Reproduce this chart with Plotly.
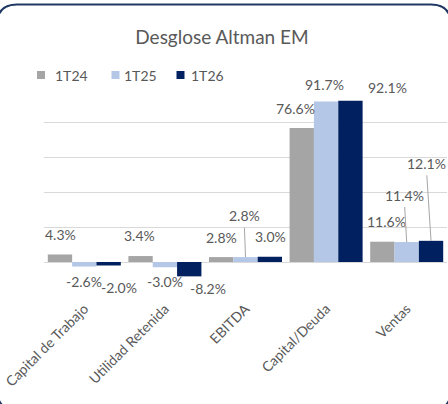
import plotly.graph_objects as go

categories = ["Capital de Trabajo", "Utilidad Retenida", "EBITDA", "Capital/Deuda", "Ventas"]
series_names = ["1T24", "1T25", "1T26"]
v_1t24 = [4.3, 3.4, 2.8, 76.6, 11.6]
v_1t25 = [-2.6, -3.0, 2.8, 91.7, 11.4]
v_1t26 = [-2.0, -8.2, 3.0, 92.1, 12.1]
y_ticks = [-20, 0, 20, 40, 60, 80, 100]
title_text = "Desglose Altman EM"

series_values = [v_1t24, v_1t25, v_1t26]
colors = ["#a5a5a5", "#b4c7e7", "#002060"]
FONT = "Lato"
TXT = "#595959"

W, H = 448, 404
ML, MR, MT, MB = 44, 1, 87, 107
BARGAP = 0.094

fig = go.Figure()
for name, vals, col in zip(series_names, series_values, colors):
    fig.add_trace(go.Bar(x=categories, y=vals, name=name, showlegend=False,
                         marker=dict(color=col, line=dict(width=0))))

# label placement (pixel shifts from bar end)
shifts = {
    (0, 0): (-24, 19.5), (1, 0): (0, -15), (2, 0): (35, -22),
    (0, 1): (-25, 21), (1, 1): (0, -14.5), (2, 1): (43, -12.5),
    (0, 2): (-24.5, 20), (2, 2): (24.5, 20),
    (0, 3): (-31, 19), (1, 3): (-2, 17.5), (2, 3): (61, 13),
    (0, 4): (-20.5, 20),
}
# leader-line labels: (series, cat) -> (ax, ay)
leaders = {(1, 2): (-1.5, -41.5), (1, 4): (-2.7, -47), (2, 4): (-5, -77.5)}
bw = (1 - BARGAP) / 3

annotations = []
for k, vals in enumerate(series_values):
    for i, v in enumerate(vals):
        txt = f"{v:.1f}%"
        if (k, i) in leaders:
            ax, ay = leaders[(k, i)]
            annotations.append(dict(x=i + (k - 1) * bw, y=v, xref="x", yref="y", text=txt,
                                    showarrow=True, arrowhead=0, arrowwidth=1, arrowcolor="#a6a6a6",
                                    ax=ax, ay=ay, standoff=0, startstandoff=2,
                                    font=dict(family=FONT, size=14, color=TXT)))
        else:
            xs, ys = shifts[(k, i)]
            annotations.append(dict(x=i, y=v, xref="x", yref="y", text=txt, showarrow=False,
                                    xshift=xs, yshift=ys, xanchor="center", yanchor="middle",
                                    font=dict(family=FONT, size=14, color=TXT)))

pw, ph = W - ML - MR, H - MT - MB
def px(x): return (x - ML) / pw
def py(y): return (H - MB - y) / ph

# custom legend (squares + text)
shapes = []
leg_sq_x = [37, 111.5, 176.5]
leg_tx_x = [53, 121.5, 189]
for name, col, sx, tx in zip(series_names, colors, leg_sq_x, leg_tx_x):
    shapes.append(dict(type="rect", xref="paper", yref="paper", x0=px(sx), x1=px(sx + 8),
                       y0=py(79), y1=py(71), fillcolor=col, line=dict(width=0)))
    annotations.append(dict(x=px(tx), y=py(75.5), xref="paper", yref="paper", text=name,
                            showarrow=False, xanchor="left", yanchor="middle",
                            font=dict(family=FONT, size=14, color=TXT)))

# rounded border
x0, x1, y0, y1, r = -3, 451, 4.5, 410, 20
path = (f"M {px(x0 + r)},{py(y0)} L {px(x1 - r)},{py(y0)} Q {px(x1)},{py(y0)} {px(x1)},{py(y0 + r)} "
        f"L {px(x1)},{py(y1 - r)} Q {px(x1)},{py(y1)} {px(x1 - r)},{py(y1)} "
        f"L {px(x0 + r)},{py(y1)} Q {px(x0)},{py(y1)} {px(x0)},{py(y1 - r)} "
        f"L {px(x0)},{py(y0 + r)} Q {px(x0)},{py(y0)} {px(x0 + r)},{py(y0)} Z")
shapes.append(dict(type="path", path=path, xref="paper", yref="paper",
                   line=dict(color="#1f3864", width=2), fillcolor="rgba(0,0,0,0)", layer="above"))

fig.update_layout(
    width=W, height=H, autosize=False,
    margin=dict(l=ML, r=MR, t=MT, b=MB, autoexpand=False),
    paper_bgcolor="white", plot_bgcolor="white",
    barmode="group", bargap=BARGAP, bargroupgap=0,
    title=dict(text=title_text, x=222 / W, xanchor="center", y=1 - 37.5 / H, yanchor="middle",
               font=dict(family=FONT, size=19, color=TXT)),
    showlegend=False,
    xaxis=dict(tickangle=-45, tickfont=dict(family=FONT, size=14, color=TXT), showgrid=False,
               showline=False, ticks="", range=[-0.5, 4.5], automargin=False),
    yaxis=dict(range=[-20, 100], tickvals=y_ticks, showticklabels=False, showgrid=True,
               gridcolor="#d9d9d9", gridwidth=1.3, zeroline=True, zerolinecolor="#d9d9d9",
               zerolinewidth=1.3, showline=False, ticks="", automargin=False),
    annotations=annotations,
    shapes=shapes,
)

fig.write_html("out.html", config={"displayModeBar": False},
               post_script="document.body.style.margin='0';document.body.style.overflow='hidden';")
